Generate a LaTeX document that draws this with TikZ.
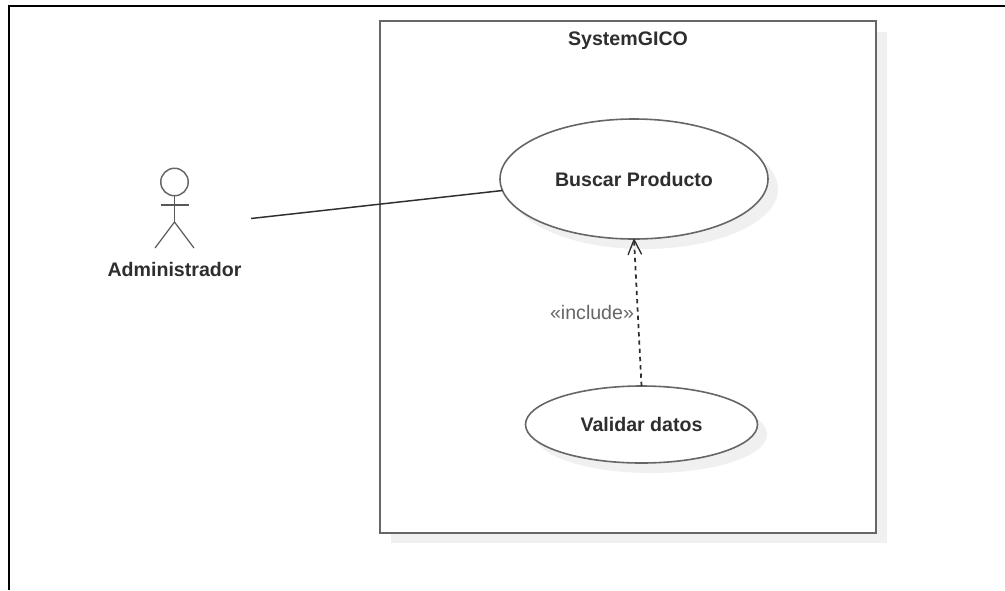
\documentclass[tikz,border=0pt]{standalone}
\usepackage{fontspec}
\setmainfont{Liberation Sans}
\usetikzlibrary{shapes.geometric,arrows.meta}
\definecolor{shade}{HTML}{F0F0F0}
\definecolor{edge}{HTML}{666666}
\definecolor{ink}{HTML}{2E2E2E}
\definecolor{soft}{HTML}{666666}
\newcommand{\pxu}{0.75pt}
\tikzset{
  x=0.75pt,y=-0.75pt,
  label text/.style={font=\fontsize{14.7pt}{17pt}\selectfont\bfseries,text=ink,inner sep=0pt},
  usecase/.style={ellipse,draw=edge,line width=1.2pt,fill=white,inner sep=0pt,outer sep=0pt,font=\fontsize{14.7pt}{17pt}\selectfont\bfseries,text=ink},
  shadowcase/.style={ellipse,fill=shade,inner sep=0pt,outer sep=0pt},
  sysbox/.style={rectangle,draw=edge,line width=2.2pt,fill=white,inner sep=0pt,outer sep=0pt},
  actorline/.style={draw=ink!80,line width=0.9pt},
}
\begin{document}
\begin{tikzpicture}
\useasboundingbox (0,0) rectangle (1005,590);
% outer frame
\coordinate (frameA) at (9,590);
\coordinate (frameB) at (9,6);
\coordinate (frameC) at (1005,6);
\draw[black,line width=1.7pt] (frameA) -- (frameB) -- (frameC);
% system box
\node[rectangle,fill=shade,minimum width=496*\pxu,minimum height=511*\pxu,inner sep=0pt] (sysshadow) at (639,287.5) {};
\node[sysbox,minimum width=496*\pxu,minimum height=512*\pxu] (system) at (628,277) {};
\node[label text] (systitle) at (628,41) {SystemGICO};
% use cases
\node[shadowcase,minimum width=268*\pxu,minimum height=120*\pxu] (buscarshadow) at (644,189) {};
\node[usecase,minimum width=268*\pxu,minimum height=120*\pxu] (buscar) at (634,179) {Buscar Producto};
\node[shadowcase,minimum width=232*\pxu,minimum height=77*\pxu] (validarshadow) at (651,434.5) {};
\node[usecase,minimum width=232*\pxu,minimum height=77*\pxu] (validar) at (641.5,424.5) {Validar datos};
% actor
\node[circle,draw=edge,line width=1.1pt,fill=white,minimum size=27.5*\pxu,inner sep=0pt,outer sep=0pt] (head) at (174.5,182) {};
\coordinate (hip) at (174.5,222);
\coordinate (armL) at (161,205);
\coordinate (armR) at (189,205);
\coordinate (legL) at (155,248);
\coordinate (legR) at (194,248);
\draw[actorline,line width=1.3pt] (head.south) -- (hip);
\draw[actorline] (armL) -- (armR);
\draw[actorline] (legL) -- (hip) -- (legR);
\node[label text] (actorname) at (174.5,269) {Administrador};
% association
\coordinate (actorEnd) at (251,218.5);
\draw[ink,line width=1.1pt] (actorEnd) -- (buscar.185);
% include dependency
\draw[ink,line width=1.3pt,dash pattern=on 3.2pt off 3pt,
  -{Straight Barb[length=11pt,width=10pt,line width=1pt,round]}] (validar.north) -- (buscar.south);
\node[inner sep=0pt,text=soft,font=\fontsize{14.7pt}{17pt}\selectfont] (inc) at (592,312) {«include»};
\end{tikzpicture}
\end{document}
